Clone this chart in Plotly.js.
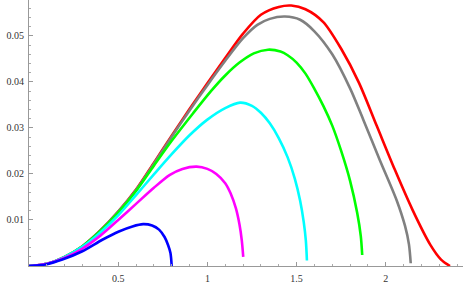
<!DOCTYPE html>
<html>
<head>
<meta charset="utf-8">
<script src="https://cdn.plot.ly/plotly-3.0.1.min.js"></script>
<style>html,body{margin:0;padding:0;background:#fff;}#chart{width:463px;height:286px;}</style>
</head>
<body>
<div id="chart"></div>
<script>
// Values
const redX  = [0, 0.1, 0.2, 0.3, 0.4, 0.5, 0.6, 0.7, 0.8, 0.9, 1.0, 1.1, 1.2, 1.3, 1.4, 1.47, 1.55, 1.65, 1.75, 1.85, 1.95, 2.05, 2.15, 2.25, 2.31, 2.36];
const redY  = [0, 0.0005, 0.0020, 0.0043, 0.0077, 0.0118, 0.0166, 0.0224, 0.0283, 0.0341, 0.0397, 0.0452, 0.0505, 0.0546, 0.0563, 0.0566, 0.0558, 0.0530, 0.0472, 0.0398, 0.0304, 0.0210, 0.0122, 0.0046, 0.0014, 0.0];

const grayX = [0, 0.1, 0.2, 0.3, 0.4, 0.5, 0.6, 0.7, 0.8, 0.9, 1.0, 1.1, 1.2, 1.28, 1.35, 1.435, 1.52, 1.6, 1.7, 1.8, 1.874, 1.967, 2.061, 2.108, 2.13, 2.14];
const grayY = [0, 0.0005, 0.0020, 0.0043, 0.0077, 0.0118, 0.0165, 0.0222, 0.0281, 0.0338, 0.0393, 0.0446, 0.0495, 0.0524, 0.0537, 0.0542, 0.0535, 0.0510, 0.0460, 0.0386, 0.0318, 0.0230, 0.0143, 0.0087, 0.0047, 0.0006];

const greenX = [0, 0.1, 0.2, 0.3, 0.4, 0.5, 0.6, 0.7, 0.8, 0.92, 1.02, 1.1, 1.18, 1.26, 1.34, 1.41, 1.45, 1.5, 1.55, 1.6, 1.65, 1.7, 1.75, 1.8, 1.84, 1.86, 1.868];
const greenY = [0, 0.0005, 0.0020, 0.0043, 0.0076, 0.0116, 0.0163, 0.0218, 0.0272, 0.0332, 0.0380, 0.0414, 0.0442, 0.0462, 0.0470, 0.0466, 0.0458, 0.0442, 0.0418, 0.0385, 0.0348, 0.0305, 0.0250, 0.0185, 0.0115, 0.0065, 0.0024];

const cyanX = [0, 0.1, 0.2, 0.3, 0.4, 0.5, 0.6, 0.7, 0.8, 0.9, 1.0, 1.1, 1.183, 1.25, 1.3, 1.35, 1.4, 1.45, 1.49, 1.52, 1.54, 1.552, 1.558];
const cyanY = [0, 0.0005, 0.0020, 0.0042, 0.0073, 0.0110, 0.0154, 0.0199, 0.0243, 0.0284, 0.0318, 0.0343, 0.0355, 0.0348, 0.0333, 0.0310, 0.0278, 0.0236, 0.0190, 0.0142, 0.0096, 0.0055, 0.0012];

const magX = [0, 0.1, 0.2, 0.3, 0.4, 0.5, 0.6, 0.7, 0.79, 0.86, 0.94, 1.0, 1.05, 1.1, 1.13, 1.16, 1.18, 1.193, 1.201];
const magY = [0, 0.0005, 0.0018, 0.0038, 0.0066, 0.0100, 0.0135, 0.0170, 0.0198, 0.0211, 0.0216, 0.0211, 0.0200, 0.0180, 0.0158, 0.0125, 0.0090, 0.0055, 0.0020];

const blueX = [0, 0.1, 0.187, 0.299, 0.411, 0.504, 0.58, 0.64, 0.69, 0.729, 0.76, 0.78, 0.793, 0.80];
const blueY = [0, 0.0004, 0.0014, 0.0032, 0.0057, 0.0075, 0.0086, 0.0091, 0.0088, 0.0079, 0.0063, 0.0045, 0.0028, 0.0];

const xTicks = [0.5, 1, 1.5, 2];
const xTickText = ["0.5", "1", "1.5", "2"];
const yTicks = [0.01, 0.02, 0.03, 0.04, 0.05];
const yTickText = ["0.01", "0.02", "0.03", "0.04", "0.05"];

const series = [
  {x: redX, y: redY, color: '#ff0000'},
  {x: grayX, y: grayY, color: '#808080'},
  {x: greenX, y: greenY, color: '#00ff00'},
  {x: cyanX, y: cyanY, color: '#00ffff'},
  {x: magX, y: magY, color: '#ff00ff'},
  {x: blueX, y: blueY, color: '#0000ff'}
];

const traces = series.map(s => ({
  x: s.x, y: s.y, type: 'scatter', mode: 'lines',
  line: {color: s.color, width: 2.6, shape: 'spline', smoothing: 0.8},
  hoverinfo: 'skip', showlegend: false
}));

const axisFont = {family: 'Liberation Serif', size: 10, color: '#333'};

const layout = {
  width: 463, height: 286,
  font: {family: 'Liberation Serif'},
  margin: {l: 29, r: 0, t: 0, b: 20, pad: 0},
  paper_bgcolor: '#fff', plot_bgcolor: '#fff',
  showlegend: false,
  xaxis: {
    range: [0, 2.433], showgrid: false, zeroline: false,
    showline: true, linecolor: '#999', linewidth: 1,
    tickmode: 'array', tickvals: xTicks, ticktext: xTickText,
    ticks: 'inside', ticklen: 4, tickcolor: '#999', tickwidth: 1,
    ticklabelstandoff: 3,
    minor: {tickmode: 'linear', tick0: 0, dtick: 0.1, ticks: 'inside', ticklen: 2, tickcolor: '#aaa', tickwidth: 1},
    tickfont: axisFont, fixedrange: true
  },
  yaxis: {
    range: [0, 0.0578], showgrid: false, zeroline: false,
    showline: true, linecolor: '#999', linewidth: 1,
    tickmode: 'array', tickvals: yTicks, ticktext: yTickText,
    ticks: 'inside', ticklen: 4, tickcolor: '#999', tickwidth: 1,
    ticklabelstandoff: 2,
    minor: {tickmode: 'linear', tick0: 0, dtick: 0.002, ticks: 'inside', ticklen: 2, tickcolor: '#aaa', tickwidth: 1},
    tickfont: axisFont, fixedrange: true
  }
};

Plotly.newPlot('chart', traces, layout, {staticPlot: true, displayModeBar: false});
</script>
</body>
</html>
